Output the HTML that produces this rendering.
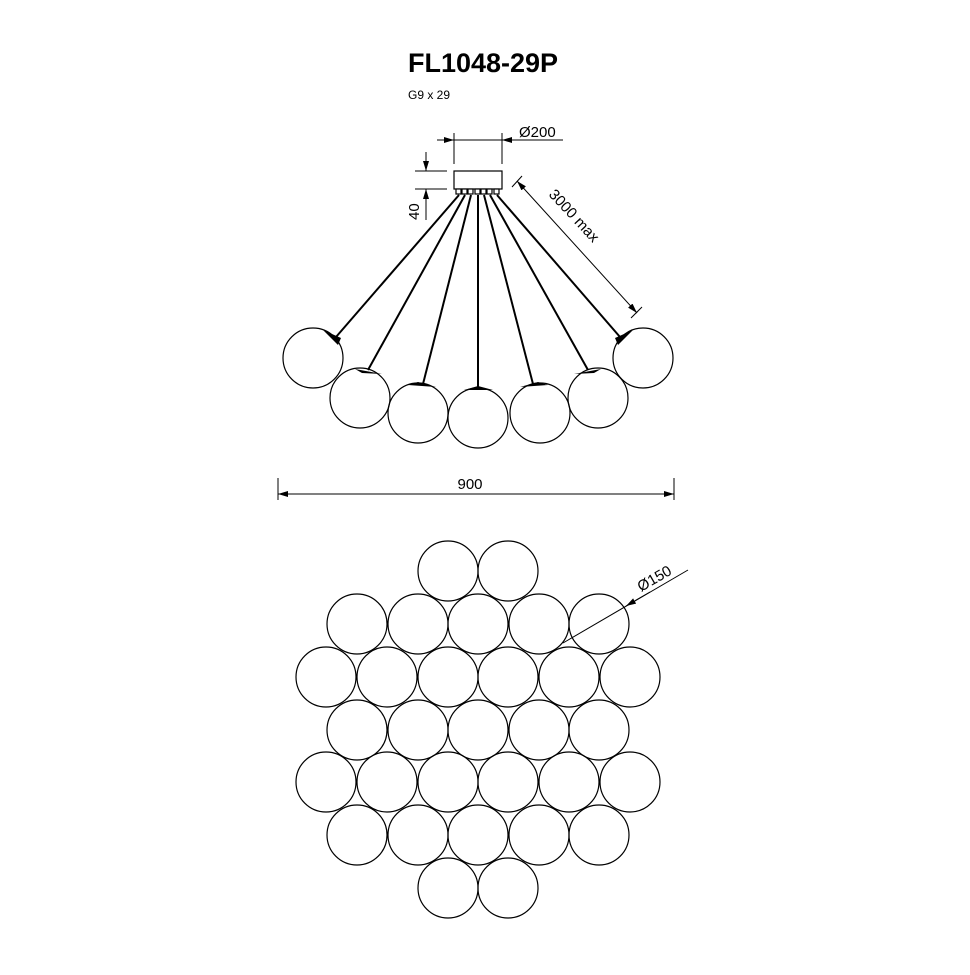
<!DOCTYPE html><html><head><style>body{margin:0;background:#fff}</style></head><body>
<svg width="970" height="970" viewBox="0 0 970 970" xmlns="http://www.w3.org/2000/svg" font-family="Liberation Sans, sans-serif">
<defs><marker id="a" viewBox="0 0 10 6" refX="10" refY="3" markerWidth="10" markerHeight="6" orient="auto-start-reverse" markerUnits="userSpaceOnUse"><path d="M0,0L10,3L0,6z" fill="#000"/></marker></defs>
<text x="483" y="72" font-size="27" font-weight="bold" text-anchor="middle">FL1048-29P</text>
<text x="408" y="99" font-size="12">G9 x 29</text>
<g stroke="#000" fill="none" stroke-width="1">
<line x1="454" y1="133" x2="454" y2="164"/><line x1="502" y1="133" x2="502" y2="164"/>
<line x1="437" y1="140" x2="454" y2="140" marker-end="url(#a)"/><line x1="563" y1="140" x2="502" y2="140" marker-end="url(#a)"/>
<line x1="454" y1="140" x2="502" y2="140"/>
<line x1="415" y1="171" x2="447" y2="171"/><line x1="415" y1="189" x2="447" y2="189"/>
<line x1="426" y1="152" x2="426" y2="171" marker-end="url(#a)"/><line x1="426" y1="220" x2="426" y2="189" marker-end="url(#a)"/>
<rect x="454" y="171" width="48" height="18" stroke-width="1.2"/>
<line x1="512" y1="187" x2="522" y2="176"/><line x1="631" y1="318" x2="642" y2="307"/>
<line x1="517" y1="181" x2="637" y2="313" marker-start="url(#a)" marker-end="url(#a)"/>
<line x1="278" y1="478" x2="278" y2="500"/><line x1="674" y1="478" x2="674" y2="500"/>
<line x1="278" y1="494" x2="674" y2="494" marker-start="url(#a)" marker-end="url(#a)"/>
</g>
<g fill="#fff" stroke="#000" stroke-width="1.2">
<rect x="456" y="189" width="5" height="5"/><rect x="462" y="189" width="5" height="5"/><rect x="468" y="189" width="5" height="5"/><rect x="475" y="189" width="5" height="5"/><rect x="481" y="189" width="5" height="5"/><rect x="487" y="189" width="5" height="5"/><rect x="494" y="189" width="5" height="5"/>
</g>
<text x="519" y="137" font-size="15">Ø200</text>
<text transform="translate(419,220) rotate(-90)" font-size="15">40</text>
<text transform="translate(548,195) rotate(47)" font-size="15">3000 max</text>
<text x="470" y="489" font-size="15" text-anchor="middle">900</text>
<g stroke="#000" stroke-width="2" fill="none">
<line x1="459" y1="195" x2="336" y2="337"/><line x1="465" y1="195" x2="368" y2="370"/><line x1="471" y1="195" x2="423" y2="384"/><line x1="478" y1="195" x2="478" y2="388"/><line x1="484" y1="195" x2="533" y2="384"/><line x1="490" y1="195" x2="588" y2="370"/><line x1="497" y1="195" x2="620" y2="337"/>
</g>
<g fill="none" stroke="#000" stroke-width="1.2">
<circle cx="313" cy="358" r="30"/><circle cx="360" cy="398" r="30"/><circle cx="418" cy="413" r="30"/><circle cx="478" cy="418" r="30"/><circle cx="540" cy="413" r="30"/><circle cx="598" cy="398" r="30"/><circle cx="643" cy="358" r="30"/>
</g>
<g fill="#000">
<path d="M323,330 L341,338 L338,345 Z"/><path d="M355,369 L382,374 L362,373 Z"/><path d="M408,385 L436,387 L418,382 Z"/><path d="M464,390 L493,390 L478,386 Z"/><path d="M520,387 L548,385 L538,382 Z"/><path d="M574,374 L601,369 L594,373 Z"/><path d="M633,330 L615,338 L618,345 Z"/>
</g>
<g fill="none" stroke="#000" stroke-width="1.2">
<circle cx="448" cy="571" r="30"/><circle cx="508" cy="571" r="30"/>
<circle cx="357" cy="624" r="30"/><circle cx="418" cy="624" r="30"/><circle cx="478" cy="624" r="30"/><circle cx="539" cy="624" r="30"/><circle cx="599" cy="624" r="30"/>
<circle cx="326" cy="677" r="30"/><circle cx="387" cy="677" r="30"/><circle cx="448" cy="677" r="30"/><circle cx="508" cy="677" r="30"/><circle cx="569" cy="677" r="30"/><circle cx="630" cy="677" r="30"/>
<circle cx="357" cy="730" r="30"/><circle cx="418" cy="730" r="30"/><circle cx="478" cy="730" r="30"/><circle cx="539" cy="730" r="30"/><circle cx="599" cy="730" r="30"/>
<circle cx="326" cy="782" r="30"/><circle cx="387" cy="782" r="30"/><circle cx="448" cy="782" r="30"/><circle cx="508" cy="782" r="30"/><circle cx="569" cy="782" r="30"/><circle cx="630" cy="782" r="30"/>
<circle cx="357" cy="835" r="30"/><circle cx="418" cy="835" r="30"/><circle cx="478" cy="835" r="30"/><circle cx="539" cy="835" r="30"/><circle cx="599" cy="835" r="30"/>
<circle cx="448" cy="888" r="30"/><circle cx="508" cy="888" r="30"/>
</g>
<line x1="688" y1="570" x2="563" y2="643" stroke="#000" stroke-width="1"/>
<line x1="650" y1="592" x2="626" y2="606" stroke="#000" stroke-width="1" marker-end="url(#a)"/>
<text transform="translate(641,592) rotate(-30)" font-size="15">Ø150</text>
</svg>
</body></html>
